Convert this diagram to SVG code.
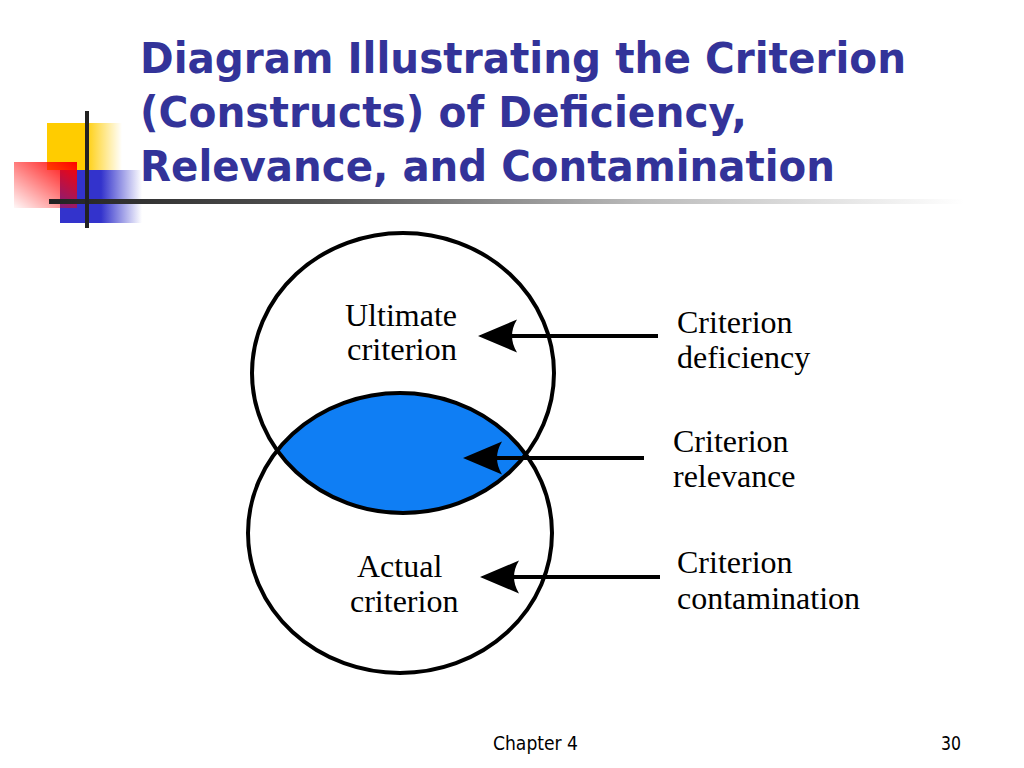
<svg xmlns="http://www.w3.org/2000/svg" width="1024" height="768" viewBox="0 0 1024 768">
  <style>
    .title { font-family: 'DejaVu Sans Condensed', 'DejaVu Sans', sans-serif; font-weight: bold; font-size: 43px; fill: #333399; }
    .lbl { font-family: 'Liberation Serif', 'Times New Roman', serif; font-size: 32px; fill: #000000; }
    .lbl-tight { font-family: 'Liberation Serif', 'Times New Roman', serif; font-size: 31px; fill: #000000; }
    .foot { font-family: 'DejaVu Sans Condensed', 'DejaVu Sans', sans-serif; font-size: 19px; fill: #000000; }
    .ring { fill: none; stroke: #000000; stroke-width: 4; }
    .conn { stroke: #000000; stroke-width: 4; fill: none; marker-end: url(#arrowhead); }
  </style>
  <defs>
    <marker id="arrowhead" markerUnits="userSpaceOnUse" viewBox="0 -18 40 36" refX="8" refY="0" markerWidth="40" markerHeight="36" orient="auto">
      <path d="M0,-16.5 L39,0 L0,16.5 Q10,0 0,-16.5 Z" fill="#000000"/>
    </marker>
    <linearGradient id="gYellow" x1="0" y1="0" x2="1" y2="0">
      <stop offset="0" stop-color="#FFCC00"/>
      <stop offset="0.5" stop-color="#FFCC00"/>
      <stop offset="1" stop-color="#FFCC00" stop-opacity="0"/>
    </linearGradient>
    <linearGradient id="gBlue" x1="0" y1="0" x2="1" y2="0">
      <stop offset="0" stop-color="#3333CC"/>
      <stop offset="0.5" stop-color="#3333CC"/>
      <stop offset="1" stop-color="#3333CC" stop-opacity="0"/>
    </linearGradient>
    <linearGradient id="gRed" x1="1" y1="0" x2="0" y2="1">
      <stop offset="0" stop-color="#FF0000"/>
      <stop offset="1" stop-color="#FF0000" stop-opacity="0.03"/>
    </linearGradient>
    <linearGradient id="gBar" x1="0" y1="0" x2="1" y2="0">
      <stop offset="0" stop-color="#222222"/>
      <stop offset="0.3" stop-color="#555555"/>
      <stop offset="0.65" stop-color="#BBBBBB"/>
      <stop offset="1" stop-color="#FFFFFF"/>
    </linearGradient>
    <clipPath id="clipTop">
      <ellipse cx="403" cy="373" rx="151" ry="140"/>
    </clipPath>
  </defs>

  <rect x="0" y="0" width="1024" height="768" fill="#FFFFFF"/>

  <!-- slide decoration -->
  <g id="decoration">
    <rect x="47" y="123" width="75" height="47" fill="url(#gYellow)"/>
    <rect x="60" y="170" width="82" height="53" fill="url(#gBlue)"/>
    <rect x="14" y="162" width="63" height="46" fill="url(#gRed)"/>
    <rect x="49" y="199" width="915" height="5" fill="url(#gBar)"/>
    <rect x="85" y="111" width="4" height="117" fill="#222222"/>
  </g>

  <g id="title">
    <text class="title" x="140" y="73" textLength="766" lengthAdjust="spacingAndGlyphs">Diagram Illustrating the Criterion</text>
    <text class="title" x="140" y="127" textLength="607" lengthAdjust="spacingAndGlyphs">(Constructs) of Deficiency,</text>
    <text class="title" x="140" y="181" textLength="695" lengthAdjust="spacingAndGlyphs">Relevance, and Contamination</text>
  </g>

  <g id="relevance-overlap">
    <ellipse cx="400" cy="533" rx="152" ry="140" fill="#0F7EF4" clip-path="url(#clipTop)"/>
  </g>

  <g id="ultimate-criterion">
    <ellipse class="ring" cx="403" cy="373" rx="151" ry="140"/>
    <text class="lbl-tight" x="345" y="326" textLength="112" lengthAdjust="spacingAndGlyphs">Ultimate</text>
    <text class="lbl-tight" x="347" y="360" textLength="110" lengthAdjust="spacingAndGlyphs">criterion</text>
  </g>

  <g id="actual-criterion">
    <ellipse class="ring" cx="400" cy="533" rx="152" ry="140"/>
    <text class="lbl" x="357" y="577">Actual</text>
    <text class="lbl" x="350" y="612">criterion</text>
  </g>

  <g id="connectors">
    <line class="conn" x1="658" y1="336" x2="509" y2="336"/>
    <line class="conn" x1="644" y1="458" x2="494" y2="458"/>
    <line class="conn" x1="660" y1="577" x2="511" y2="577"/>
  </g>

  <g id="criterion-deficiency">
    <text class="lbl" x="677" y="333">Criterion</text>
    <text class="lbl" x="677" y="368">deficiency</text>
  </g>

  <g id="criterion-relevance">
    <text class="lbl" x="673" y="452">Criterion</text>
    <text class="lbl" x="673" y="487">relevance</text>
  </g>

  <g id="criterion-contamination">
    <text class="lbl" x="677" y="573">Criterion</text>
    <text class="lbl" x="677" y="609">contamination</text>
  </g>

  <g id="footer">
    <text class="foot" x="493" y="750" textLength="85" lengthAdjust="spacingAndGlyphs">Chapter 4</text>
    <text class="foot" x="941" y="750" textLength="20" lengthAdjust="spacingAndGlyphs">30</text>
  </g>
</svg>
